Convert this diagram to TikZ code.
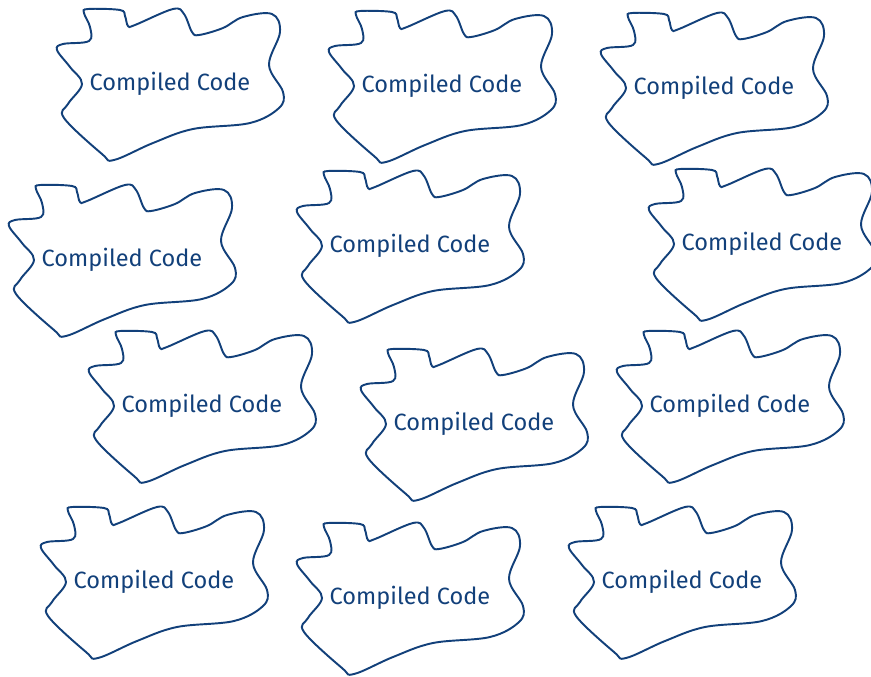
\documentclass[tikz,border=0pt]{standalone}
\usepackage{fontspec}
\setmainfont{Fira Sans}
\definecolor{blobblue}{RGB}{18,64,122}
\tikzset{
  blob/.pic={
    \draw[blobblue, line width=1.1pt] plot[smooth cycle, tension=0.6] coordinates {
      (34,13) (38,9) (70,10) (75,16) (78,26) (85,25) (123,9) (134,14)
      (142,32) (149,35) (173,28) (193,17) (222,14) (230,32) (219,65)
      (233,92) (229,108) (200,123) (143,129) (103,143) (64,160) (52,154)
      (14,118) (18,104) (32,84) (20,67) (7,50) (13,44) (39,41) (40,27)};
  },
  codelabel/.style={text=blobblue, font=\fontsize{13.4}{16}\selectfont},
}
\begin{document}
\begin{tikzpicture}[x=0.02cm, y=-0.02cm]
  \useasboundingbox (0,0) rectangle (871,676);
  \foreach \ox/\oy [count=\i] in {50/0, 322/2, 594/4, 2/176, 290/162, 642/160,
      82/322, 354/340, 610/322, 34/498, 290/514, 562/498} {
    \pic at (\ox,\oy) {blob};
    \node[codelabel] (code\i) at (\ox+120,\oy+84) {Compiled Code};
  }
\end{tikzpicture}
\end{document}
